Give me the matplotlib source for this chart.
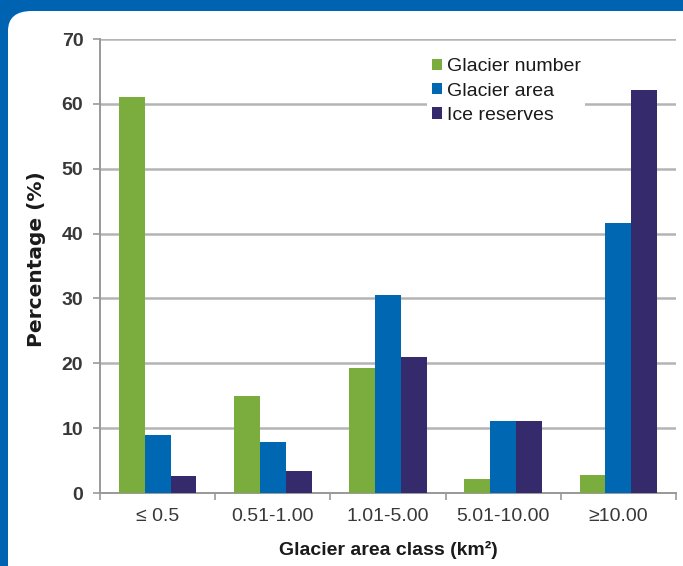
import matplotlib.pyplot as plt
import numpy as np
from matplotlib.patches import FancyBboxPatch

categories = ['≤ 0.5', '0.51-1.00', '1.01-5.00', '5.01-10.00', '≥10.00']
glacier_number = [61.0, 15.0, 19.3, 2.2, 2.8]
glacier_area = [9.0, 7.8, 30.5, 11.1, 41.6]
ice_reserves = [2.6, 3.4, 20.9, 11.1, 62.1]

plt.rcParams['font.family'] = ['Liberation Sans', 'DejaVu Sans']

fig = plt.figure(figsize=(6.83, 5.66), dpi=100)
fig.patch.set_facecolor('#0063b1')

# white rounded panel inside the blue frame
panel = FancyBboxPatch((8 / 683, -0.05), 1.2, 1 - 11 / 566 + 0.05,
                       boxstyle='round,pad=0,rounding_size=0.035',
                       transform=fig.transFigure, facecolor='white',
                       edgecolor='none', zorder=-1)
fig.patches.append(panel)

ax = fig.add_axes([100 / 683, 1 - 493 / 566, 576 / 683, 454 / 566])
ax.set_zorder(2)
ax.set_facecolor('none')

x = np.arange(len(categories))
w = 0.225
ax.bar(x - w, glacier_number, w, color='#7aad3e', label='Glacier number', zorder=3)
ax.bar(x, glacier_area, w, color='#0068b3', label='Glacier area', zorder=3)
ax.bar(x + w, ice_reserves, w, color='#352a6b', label='Ice reserves', zorder=3)

ax.set_xlim(-0.5, len(categories) - 0.5)
ax.set_ylim(0, 70)
ax.set_yticks(range(0, 71, 10))
ax.set_xticks(x)
ax.set_xticklabels(categories)
ax.set_xticks(np.arange(-0.5, len(categories), 1), minor=True)
ax.tick_params(axis='x', which='major', length=0, pad=11, labelsize=14,
               labelcolor='#383838')
ax.tick_params(axis='x', which='minor', length=5, color='#999999', width=1.2)
ax.tick_params(axis='y', length=5, color='#999999', width=1.2, labelsize=14,
               labelcolor='#383838', pad=7)
for lbl in ax.get_yticklabels():
    lbl.set_fontweight('bold')

ax.grid(axis='y', color='#b4b4b4', linewidth=1.8, zorder=0)
for side in ['top', 'right']:
    ax.spines[side].set_visible(False)
for side in ['left', 'bottom']:
    ax.spines[side].set_color('#999999')
    ax.spines[side].set_linewidth(1.4)

ax.set_ylabel('Percentage (%)', fontsize=14.5, fontweight='bold',
              family='DejaVu Sans', color='#1a1a1a')
ax.yaxis.set_label_coords(-0.093, 0.515)
ax.set_xlabel('Glacier area class (km²)', fontsize=14, fontweight='bold',
              labelpad=11, color='#1a1a1a')

leg = ax.legend(loc='upper left', bbox_to_anchor=(0.551, 0.99), frameon=True,
                framealpha=1, edgecolor='none', facecolor='white',
                fontsize=14, handlelength=0.5, handleheight=0.5,
                handletextpad=0.25, labelspacing=0.38, borderpad=0.25,
                labelcolor='#1a1a1a')
leg.set_zorder(5)

fig.savefig('out.png', dpi=100, facecolor=fig.get_facecolor())
